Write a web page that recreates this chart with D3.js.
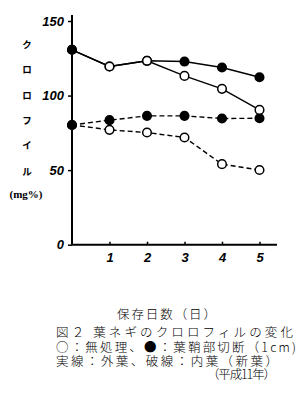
<!DOCTYPE html>
<html><head><meta charset="utf-8">
<script src="https://cdn.jsdelivr.net/npm/d3@7"></script>
<style>body{margin:0;background:#fff}svg{display:block}</style>
</head><body>
<svg id="c" width="304" height="397"></svg>
<script>
const days = [0,1,2,3,4,5];
const xTicks = [1,2,3,4,5];
const yTicks = [0,50,100,150];
const outerControl = [130.7,119.5,123.3,113.2,104.5,90.4];   // 実線・○
const outerCut     = [130.7,119.5,123.3,122.8,118.8,112.3];  // 実線・●
const innerCut     = [80.3,83.5,86.4,86.4,84.6,84.8];        // 破線・●
const innerControl = [80.3,77.0,75.2,71.9,54.0,50.1];        // 破線・○
const yLabelChars = ["ク","ロ","ロ","フ","イ","ル"];
const captions = ["保存日数（日）","図２ 葉ネギのクロロフィルの変化","○：無処理、●：葉鞘部切断（1cm)","実線：外葉、破線：内葉（新葉）","（平成11年）"];

const svg = d3.select("#c");
const x = d3.scaleLinear().domain([0,5]).range([72,259.5]);
const y = d3.scaleLinear().domain([0,150]).range([244.7,21]);

// axes
const gy = svg.append("g").attr("transform","translate(72,0)")
  .call(d3.axisLeft(y).tickValues(yTicks).tickSize(4).tickFormat(d3.format("d")));
gy.select(".domain").remove();
gy.selectAll("text").attr("font-family","Liberation Sans, Arial").attr("font-size",13)
  .attr("font-weight","bold").attr("font-style","italic").attr("dx",-1);
gy.selectAll("line").attr("stroke-width",1.5);
svg.append("line").attr("x1",72).attr("x2",72).attr("y1",15).attr("y2",244.7).attr("stroke","#000").attr("stroke-width",2);

const gx = svg.append("g").attr("transform","translate(0,244.7)")
  .call(d3.axisBottom(x).tickValues(xTicks).tickSize(-3).tickPadding(8).tickFormat(d3.format("d")));
gx.select(".domain").remove();
gx.selectAll("text").attr("font-family","Liberation Sans, Arial").attr("font-size",13)
  .attr("font-weight","bold").attr("font-style","italic");
gx.selectAll("line").attr("stroke-width",1.5);
svg.append("line").attr("x1",72).attr("x2",277).attr("y1",244.7).attr("y2",244.7).attr("stroke","#000").attr("stroke-width",2);

// lines
const line = d3.line().x((d,i)=>x(days[i])).y(d=>y(d));
const series = [
  {v:outerCut, dash:null, fill:"#000"},
  {v:innerCut, dash:"5,3", fill:"#000"},
  {v:innerControl, dash:"5,3", fill:"#fff"},
  {v:outerControl, dash:null, fill:"#fff"}
];
series.forEach(s=>{
  svg.append("path").attr("d",line(s.v)).attr("fill","none").attr("stroke","#000")
    .attr("stroke-width",1.4).attr("stroke-dasharray",s.dash);
});
series.forEach(s=>{
  svg.append("g").selectAll("circle").data(s.v).join("circle")
    .attr("cx",(d,i)=>x(days[i])).attr("cy",d=>y(d)).attr("r",4.3)
    .attr("fill",(d,i)=> i===0 ? "#000" : s.fill).attr("stroke","#000").attr("stroke-width",1.5);
});

// y label
const yl = svg.append("g").attr("font-family","Noto Sans CJK JP").attr("font-weight","bold").attr("font-size",9.5).attr("text-anchor","middle");
yl.selectAll("text").data(yLabelChars).join("text")
  .attr("x",27).attr("y",(d,i)=>48+i*25.3).text(d=>d);
svg.append("text").attr("x",26).attr("y",198).attr("text-anchor","middle")
  .attr("font-family","Liberation Serif").attr("font-weight","bold").attr("font-size",11).text("(mg%)");

// captions
const cap = [
  {x:117,y:319,w:99},
  {x:56,y:337,w:237},
  {x:56,y:352,w:240},
  {x:56,y:365.5,w:222},
  {x:207,y:379,w:69}
];
svg.append("g").attr("font-family","Noto Sans CJK JP").attr("font-size",12.5).attr("font-weight",300)
  .selectAll("text").data(captions).join("text")
  .attr("x",(d,i)=>cap[i].x).attr("y",(d,i)=>cap[i].y)
  .attr("textLength",(d,i)=>cap[i].w).attr("lengthAdjust","spacing").text(d=>d);
</script>
</body></html>
